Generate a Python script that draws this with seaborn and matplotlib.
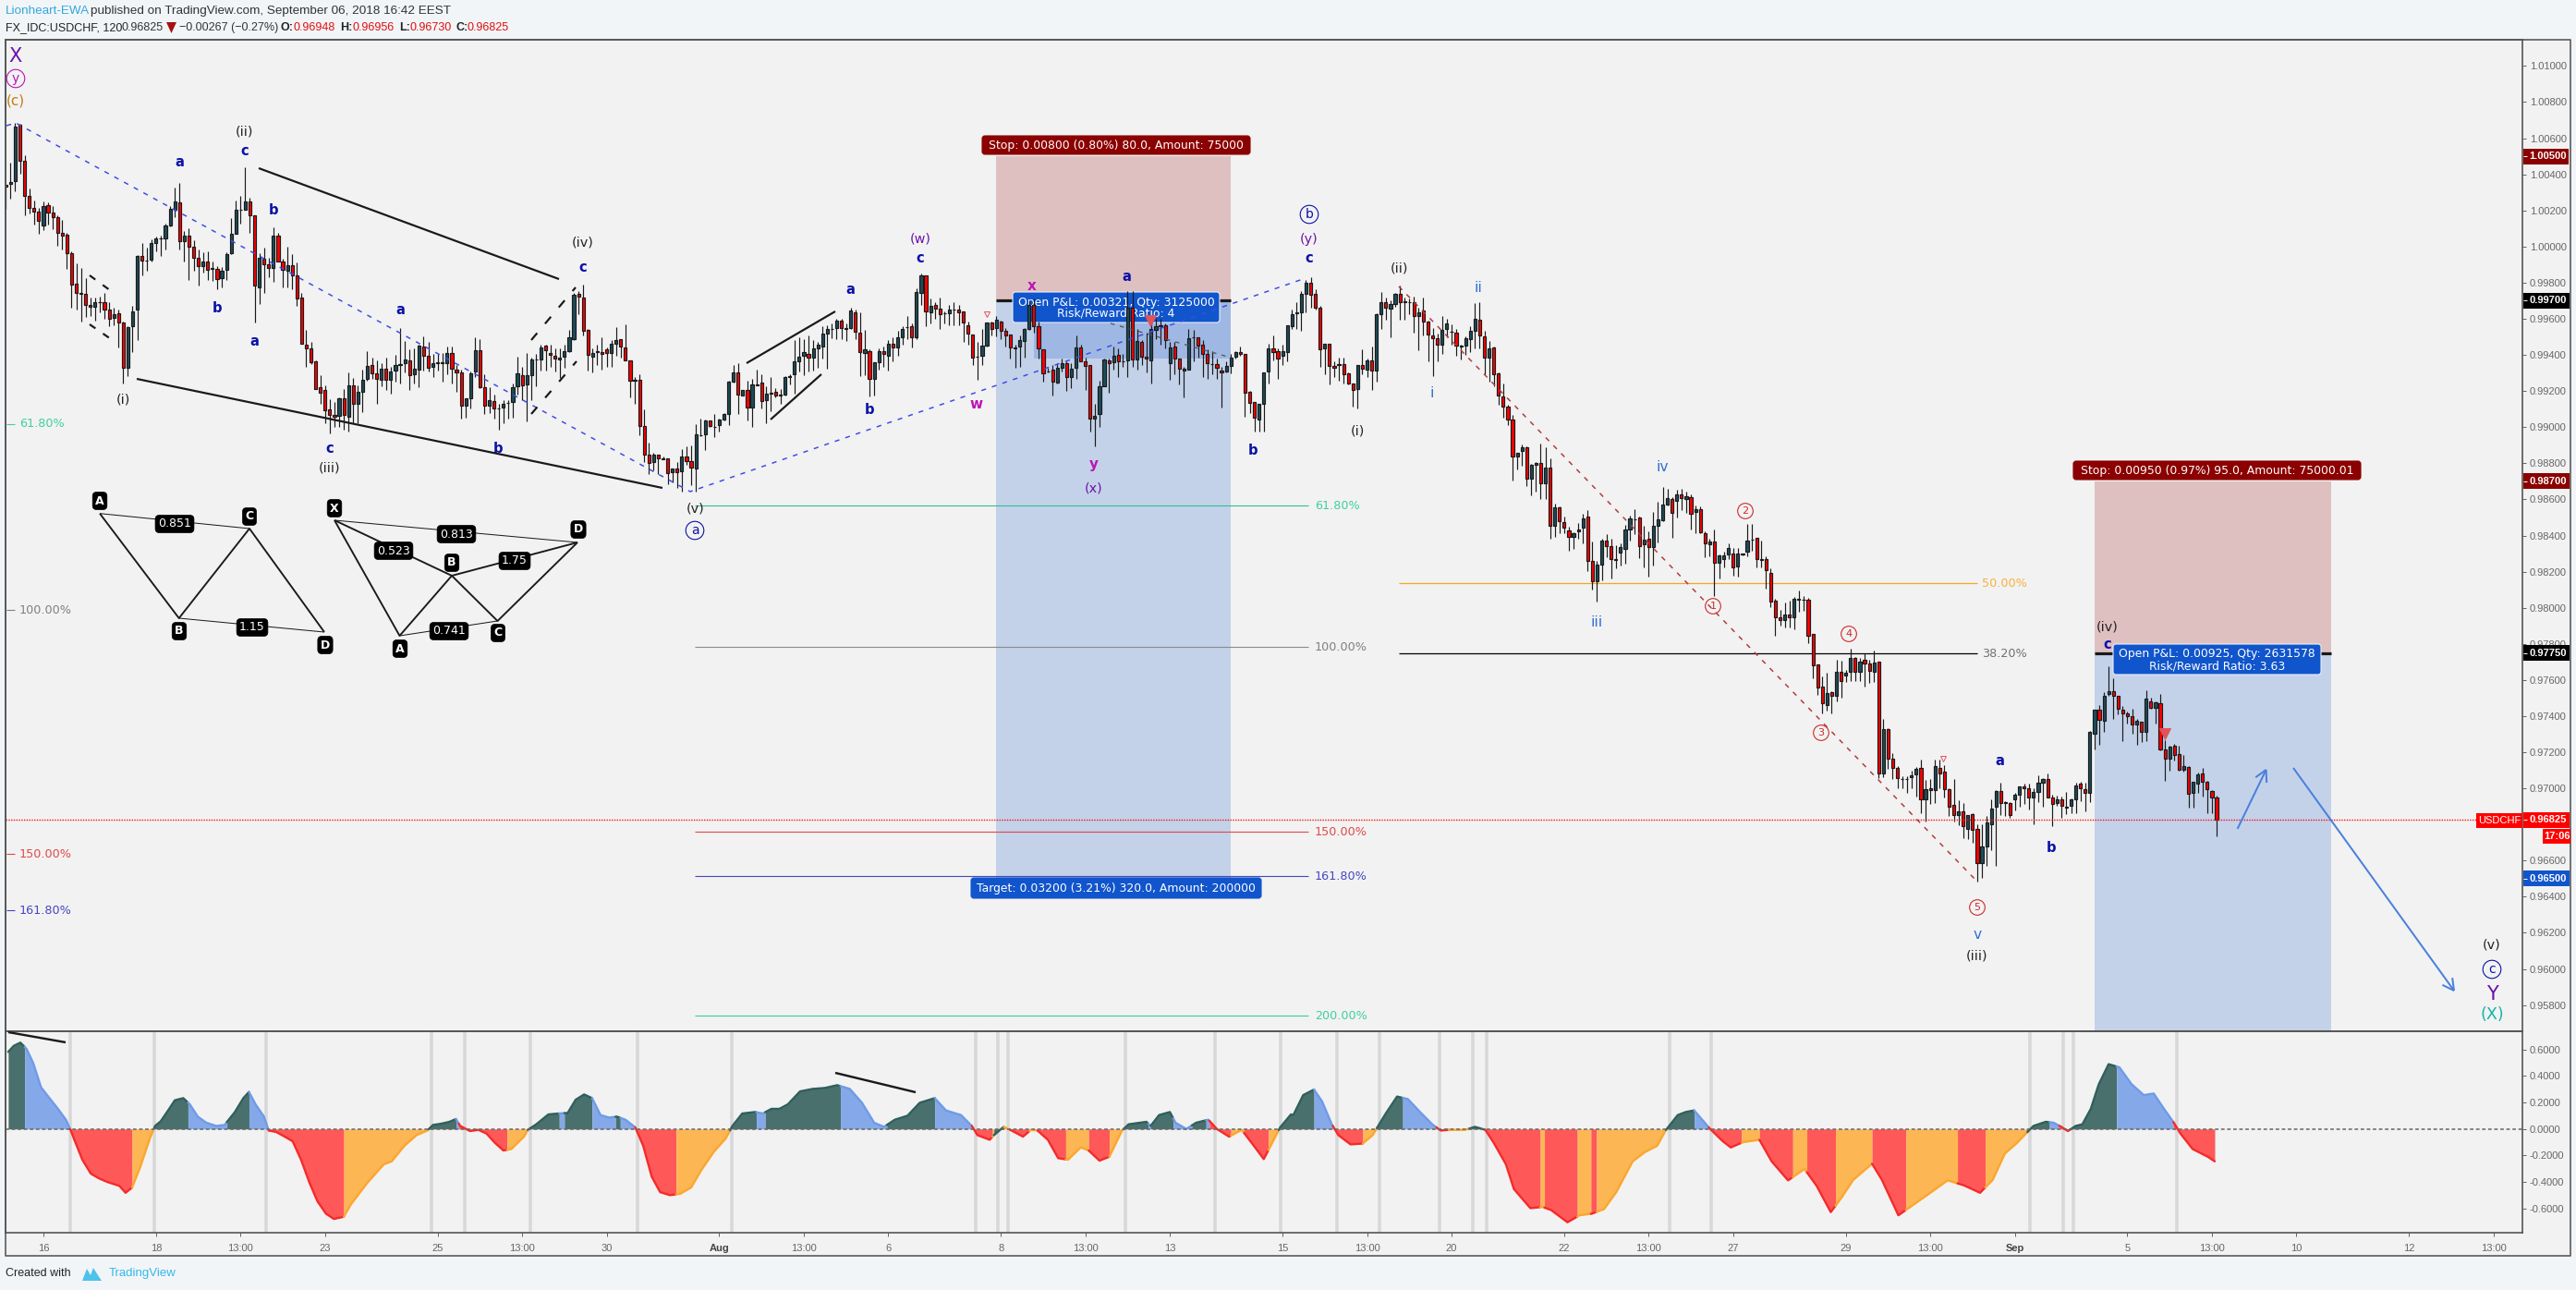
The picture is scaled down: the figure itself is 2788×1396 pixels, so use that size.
import numpy as np
import pandas as pd
import seaborn as sns
import matplotlib
matplotlib.use("Agg")
import matplotlib.pyplot as plt
from matplotlib.lines import Line2D
from matplotlib.patches import Rectangle, FancyBboxPatch, Polygon
from matplotlib.transforms import Affine2D

W, H = 2788, 1396
# ---------------- price data, in 1e-5 units ----------------
opens = [
100340,100345,100362,100673,100473,100282,100212,100192,100115,100227,
100186,100161,100074,100064,99961,99792,99741,99736,99675,99665,
99690,99690,99651,99603,99629,99577,99330,99557,99649,99946,
99924,99925,100021,100043,100047,100115,100203,100243,100028,100062,
100000,99939,99890,99919,99879,99878,99823,99869,99961,100069,
100202,100202,100251,100171,99775,99934,99900,99879,100059,99919,
99864,99895,99838,99719,99455,99438,99366,99219,99204,99096,
99069,99062,99158,99056,99230,99127,99194,99265,99342,99296,
99260,99322,99260,99311,99344,99352,99368,99291,99316,99444,
99393,99335,99356,99354,99352,99412,99317,99301,
99118,99162,99307,99425,99220,99118,99143,99104,99107,99135,
99141,99225,99286,99235,99286,99375,99373,99450,99409,99394,
99373,99389,99419,99486,99737,99716,99537,99389,99418,99414,
99430,99409,99460,99486,99440,99368,99261,99261,99005,98846,
98805,98846,98826,98826,98749,98770,98754,98836,98810,98770,
98954,98959,99036,99003,99010,99041,99071,99250,99302,99174,
99204,99107,99233,99245,99148,99187,99194,99177,99179,99280,
99291,99363,99394,99404,99384,99435,99445,99517,99542,99547,
99588,99549,99547,99634,99522,99409,99419,99266,99358,99419,
99394,99460,99440,99496,99552,99558,99498,
99742,99839,99634,99675,99655,99629,99629,99650,99650,99640,
99563,99512,99391,99394,99450,99578,99547,99583,99532,99512,
99440,99445,99476,99542,99675,99558,99430,99310,99317,99246,
99327,99353,99276,99327,99440,99363,99343,99046,99072,99225,
99368,99358,99399,99367,99368,99660,99374,99471,99389,99368,
99537,99563,99563,99353,99445,99379,99312,99317,99496,99496,
99455,99404,99350,99348,99312,99307,99338,99389,99414,99404,
99194,99138,99041,99128,99307,99435,99420,99394,99414,99558,
99633,99634,99737,99798,99737,99660,99435,99460,99338,99348,
99348,99297,99240,99210,99343,99317,
99368,99311,99623,99690,99654,99680,99736,99698,99693,99690,
99613,99644,99582,99506,99490,99455,99542,99530,99521,99449,
99449,99485,99531,99593,99501,99383,99439,99296,99168,99112,
99040,98835,98866,98887,98713,98789,98800,98687,98774,98452,
98554,98472,98426,98390,98421,98441,98503,98257,98148,98237,
98370,98339,98262,98303,98324,98431,98491,98498,98349,98380,
98334,98452,98482,98569,98600,98590,98626,98600,98610,98528,
98544,98411,98349,98365,98247,98272,98293,98298,98231,98298,
98308,98375,98385,98262,98272,98191,
98038,97947,97932,97960,97947,98047,98042,
98042,97853,97684,97565,97459,97531,97510,97643,97623,97643,
97720,97643,97710,97689,97643,97700,97085,97326,97162,97111,
97051,97051,97060,97075,97111,96937,96999,96988,97111,97091,
96993,96906,96850,96871,96778,96855,96773,96584,96676,96799,
96896,96983,96922,96917,96937,96963,97009,96999,96952,96978,
97029,97050,96952,96917,96937,96896,96901,96937,97024,96993,
96973,97300,97433,97372,97520,97536,97510,97433,97413,97398,
97352,97367,97311,97480,97444,97469,97218,97162,97234,97188,
97101,97116,96973,97024,97080,97034,96983,96947,
]
closes = [
100330,100355,100662,100473,100279,100212,100192,100140,100225,100186,
100161,100074,100059,99961,99787,99741,99738,99675,99665,99690,
99693,99649,99598,99625,99577,99327,99552,99642,99949,99920,
99920,100018,100043,100047,100115,100207,100248,100028,100062,99999,
99936,99890,99919,99869,99876,99818,99867,99956,100069,100205,
100205,100251,100171,99782,99936,99903,99879,100059,99917,99869,
99895,99838,99710,99460,99434,99357,99209,99189,99091,99066,
99060,99158,99066,99230,99127,99194,99260,99337,99296,99267,
99322,99260,99306,99342,99347,99373,99286,99322,99450,99393,
99330,99352,99359,99357,99412,99322,99301,99117,
99162,99297,99425,99220,99118,99148,99104,99102,99131,99136,
99220,99297,99233,99286,99373,99377,99440,99425,99399,99378,
99384,99419,99496,99732,99721,99532,99399,99409,99419,99404,
99409,99460,99481,99445,99368,99256,99259,99005,98846,98800,
98846,98826,98824,98746,98770,98749,98836,98810,98775,98959,
98955,99036,99005,99002,99041,99071,99250,99302,99179,99204,
99107,99235,99235,99143,99184,99189,99174,99179,99276,99281,
99363,99389,99414,99384,99435,99455,99517,99542,99544,99588,
99547,99542,99645,99527,99414,99430,99266,99358,99419,99404,
99460,99440,99496,99542,99554,99496,99747,
99839,99640,99670,99655,99624,99631,99650,99652,99634,99578,
99517,99384,99389,99450,99578,99542,99594,99532,99507,99440,
99438,99481,99542,99675,99558,99435,99297,99309,99251,99327,
99353,99276,99322,99440,99363,99338,99046,99061,99225,99374,
99353,99394,99363,99365,99660,99374,99476,99389,99379,99542,
99558,99561,99481,99440,99379,99322,99322,99491,99495,99450,
99404,99353,99348,99327,99302,99338,99384,99414,99404,99189,
99133,99051,99128,99302,99435,99414,99379,99420,99563,99624,
99634,99737,99798,99732,99660,99430,99460,99338,99327,99346,
99292,99240,99205,99343,99322,99368,
99311,99623,99690,99659,99680,99736,99690,99693,99692,99613,
99634,99582,99511,99490,99455,99536,99572,99528,99449,99448,
99490,99531,99598,99506,99383,99434,99291,99173,99112,99040,
98835,98856,98887,98713,98789,98800,98687,98774,98452,98554,
98477,98441,98390,98411,98431,98493,98257,98148,98237,98370,
98339,98267,98272,98334,98431,98493,98489,98339,98375,98334,
98452,98487,98569,98605,98523,98626,98605,98615,98518,98544,
98416,98354,98365,98247,98288,98288,98329,98226,98298,98296,
98370,98378,98267,98272,98206,98033,
97947,97932,97960,97947,98048,98046,98044,
97843,97679,97556,97469,97526,97510,97643,97592,97638,97720,
97643,97700,97689,97648,97694,97085,97326,97162,97111,97055,
97050,97050,97070,97106,96937,96993,96988,97121,97085,96993,
96896,96850,96871,96789,96850,96768,96584,96676,96809,96886,
96983,96917,96920,96850,96963,97009,96999,96952,96978,97029,
97050,96947,96912,96937,96901,96894,96937,97014,96999,96973,
97311,97433,97377,97510,97536,97510,97439,97413,97398,97352,
97372,97311,97495,97444,97474,97213,97162,97229,97183,97101,
97121,96968,97034,97075,97034,96993,96947,96825,
]
highs = [
100342,100464,100683,100680,100504,100321,100256,100212,100248,100244,
100222,100171,100145,100077,99975,99907,99881,99825,99719,99719,
99722,99741,99693,99660,99651,99583,99557,99673,99954,100018,
99992,100038,100057,100060,100128,100222,100325,100350,100086,100099,
100035,99983,99966,99975,99915,99890,99884,99966,100157,100253,
100279,100439,100268,100171,99963,99992,99936,100106,100076,99932,
100000,99958,99912,99745,99540,99472,99369,99287,99233,99153,
99139,99165,99212,99301,99270,99233,99318,99420,99386,99369,
99356,99386,99335,99398,99548,99475,99429,99438,99455,99502,
99472,99404,99404,99412,99446,99446,99344,99318,
99054,99310,99498,99486,99293,99222,99182,99131,99148,99148,
99242,99390,99336,99413,99387,99404,99455,99455,99455,99438,
99438,99455,99537,99745,99754,99788,99544,99438,99455,99498,
99442,99481,99554,99489,99570,99370,99276,99293,99097,98913,
98858,98850,98838,98827,98773,98807,98879,98892,98901,99015,
99049,99042,99037,99071,99049,99080,99259,99344,99353,99208,
99259,99268,99319,99293,99225,99276,99216,99213,99285,99293,
99481,99498,99489,99506,99481,99472,99561,99566,99575,99600,
99600,99575,99660,99651,99634,99540,99430,99361,99438,99447,
99481,99498,99532,99558,99617,99575,99771,
99848,99839,99711,99694,99720,99643,99677,99694,99677,99643,
99583,99515,99472,99544,99578,99583,99617,99592,99549,99515,
99455,99507,99549,99703,99711,99583,99430,99327,99345,99353,
99382,99362,99353,99510,99455,99387,99345,99131,99259,99379,
99379,99447,99438,99404,99754,99754,99541,99481,99524,99609,
99600,99600,99575,99472,99472,99379,99336,99541,99537,99498,
99481,99430,99421,99379,99336,99362,99404,99421,99447,99404,
99200,99140,99131,99302,99464,99510,99438,99455,99566,99652,
99694,99754,99814,99831,99762,99669,99464,99464,99362,99387,
99387,99302,99242,99345,99430,99379,
99446,99629,99748,99719,99702,99745,99782,99719,99710,99724,
99659,99716,99591,99548,99519,99613,99600,99569,99543,99455,
99502,99557,99685,99692,99535,99475,99446,99301,99241,99122,
99066,98858,98904,98895,98798,98806,98907,98887,98827,98576,
98559,98503,98448,98418,98469,98520,98539,98366,98261,98380,
98406,98383,98346,98354,98457,98508,98545,98503,98452,98423,
98528,98585,98667,98658,98610,98653,98656,98644,98627,98568,
98559,98423,98380,98431,98295,98312,98358,98332,98332,98301,
98462,98465,98388,98371,98286,98218,
98050,97986,98030,98040,98060,98094,98065,
98053,97856,97684,97621,97638,97536,97710,97706,97655,97771,
97729,97723,97746,97710,97763,97701,97382,97331,97195,97121,
97067,97067,97096,97118,97157,97046,97050,97157,97157,97126,
96999,97050,96934,96917,96853,96865,96802,96802,96845,96939,
96990,97033,96930,96922,96973,97012,97024,97024,96999,97070,
97058,97080,96964,96961,96956,96981,96942,97033,97036,97033,
97316,97433,97459,97531,97676,97607,97514,97456,97425,97442,
97382,97370,97541,97502,97480,97520,97268,97237,97246,97234,
97183,97121,97039,97087,97113,97041,96990,96959,
]
lows = [
100209,100265,100308,100401,100175,100183,100123,100069,100089,100120,
100094,100004,99983,99878,99663,99651,99586,99612,99617,99591,
99634,99600,99557,99566,99443,99243,99284,99417,99484,99838,
99867,99915,99975,99946,99983,100111,100163,99983,99915,99816,
99864,99784,99855,99813,99809,99765,99774,99816,99958,100069,
100128,100202,100077,99581,99681,99745,99830,99804,99915,99775,
99775,99765,99673,99460,99335,99347,99296,99127,99023,98967,
99003,99003,98986,98977,99020,99020,99084,99258,99267,99130,
99224,99204,99187,99250,99241,99301,99206,99241,99219,99315,
99308,99279,99315,99253,99293,99241,99195,99045,
99054,99106,99276,99216,99075,99080,99046,98986,99020,99046,
99054,99182,99148,99034,99148,99225,99315,99312,99336,99307,
99271,99327,99416,99484,99626,99506,99315,99305,99344,99319,
99336,99336,99395,99384,99370,99165,99131,98957,98807,98739,
98759,98742,98821,98684,98696,98662,98645,98790,98679,98642,
98952,98875,99003,98943,98978,99037,99012,99247,99075,99174,
99037,99003,99233,99106,99024,99088,99165,99131,99174,99239,
99186,99310,99288,99310,99315,99327,99378,99326,99493,99489,
99489,99476,99544,99489,99285,99288,99169,99174,99319,99336,
99315,99367,99395,99455,99489,99442,99489,
99677,99558,99575,99600,99541,99575,99566,99566,99566,99472,
99455,99345,99264,99345,99447,99507,99501,99486,99447,99379,
99327,99336,99384,99537,99524,99379,99254,99302,99174,99242,
99310,99200,99217,99268,99362,99208,98978,98896,99003,99225,
99189,99319,99276,99336,99276,99336,99319,99345,99305,99242,
99486,99455,99438,99264,99293,99234,99165,99316,99362,99387,
99276,99268,99293,99268,99111,99302,99298,99379,99396,99055,
99080,98978,98978,98978,99242,99370,99268,99345,99362,99541,
99544,99532,99634,99660,99651,99336,99293,99234,99276,99259,
99242,99234,99114,99106,99293,99276,
99207,99253,99543,99596,99499,99668,99596,99596,99625,99523,
99426,99506,99364,99284,99364,99403,99497,99455,99395,99374,
99398,99417,99434,99434,99291,99253,99224,99122,99050,99011,
98704,98764,98784,98675,98622,98641,98602,98602,98383,98394,
98414,98414,98317,98325,98380,98354,98201,98099,98035,98153,
98278,98163,98218,98235,98244,98371,98406,98274,98226,98172,
98235,98363,98479,98568,98388,98499,98542,98525,98435,98414,
98411,98278,98286,98064,98163,98226,98269,98175,98172,98291,
98286,98317,98226,98223,98107,98005,
97846,97900,97890,97890,97880,97979,97984,
97804,97607,97515,97416,97428,97416,97481,97502,97587,97592,
97592,97592,97565,97582,97587,97055,97062,97109,97053,96999,
96999,96976,96999,96956,96862,96814,96913,96917,96999,96947,
96845,96814,96797,96726,96717,96697,96483,96504,96572,96657,
96569,96853,96845,96836,96879,96896,96913,96883,96802,96922,
96896,96947,96789,96905,96836,96859,96862,96865,96927,96874,
96925,97217,97241,97312,97510,97386,97408,97263,97357,97300,
97242,97254,97263,97442,97357,97212,97041,97096,97152,97097,
97092,96893,96893,96973,96956,96862,96862,96734,
]
# ---------------- oscillator, bars and values ----------------
osc_bars = [
0.5,1.7,3.1,4.4,5.8,7.5,9.3,11.1,12.8,13.7,14.6,16.3,18.1,19.8,21.6,24.2,25.5,26.9,28.6,30.7,
31.8,33.0,34.8,36.0,37.8,39.2,40.9,42.7,44.8,46.6,48.8,50.6,51.8,53.2,55.0,56.0,57.6,59.4,61.1,62.9,
64.7,66.4,68.2,69.9,72.0,73.5,77.0,80.5,82.2,84.9,87.5,89.8,91.0,92.8,94.5,95.9,96.8,98.9,100.7,102.4,
104.2,106.0,107.7,110.4,111.2,113.0,115.6,117.9,119.7,121.4,123.2,124.9,126.7,128.5,130.2,132.0,134.1,135.8,137.6,139.4,
141.5,143.7,146.0,148.1,150.8,153.4,154.8,156.9,159.6,161.3,163.1,164.8,166.6,169.2,171.9,174.5,177.1,179.8,182.4,185.0,
187.1,189.4,192.1,194.7,197.9,200.3,203.5,205.8,207.0,209.6,210.5,212.6,214.0,216.7,218.4,219.8,222.0,224.2,226.3,229.0,
230.7,233.0,235.1,237.8,239.2,243.0,243.9,245.7,248.0,249.2,251.5,253.6,256.2,258.0,260.6,263.3,265.9,268.0,270.3,271.5,273.8,
274.3,276.4,278.7,280.4,282.5,283.9,286.5,289.1,291.2,292.2,294.0,296.4,298.7,301.3,303.9,305.7,307.4,310.9,313.0,315.2,
317.0,319.6,321.3,324.8,327.4,329.2,332.7,335.3,337.9,340.5,343.1,346.6,349.2,351.8,353.6,356.2,357.9,359.7,361.4,363.1,
365.8,367.5,370.1,373.6,376.2,379.7,383.2,385.8,388.8,391.0,393.6,397.6,399.7,403.2,404.6,409.3,413.7,417.2,420.6,423.3,
425.9,428.5,430.7,432.0,434.6,436.3,438.1,439.3,441.0,442.4,444.2,445.9,448.0,450.3,452.9,455.5,457.6,459.8,461.9,463.3,
465.9,469.1,470.6,
]
osc_vals = [
.583,.629,.653,.606,.501,.315,.233,.152,.070,0,-.082,-.233,-.338,-.373,-.401,-.431,-.483,-.443,-.291,-.070,
.023,.058,.152,.217,.233,.186,.093,.047,.023,.030,.128,.233,.280,.186,.093,-.012,-.023,-.058,-.093,-.233,
-.408,-.548,-.641,-.681,-.664,-.571,-.408,-.268,-.245,-.128,-.047,-.012,.030,.040,.054,.075,.023,-.016,-.007,-.035,
-.105,-.163,-.152,-.058,-.007,.035,.110,.117,.121,.221,.261,.233,.105,.086,.093,.070,.012,-.128,-.361,-.478,
-.501,-.490,-.443,-.315,-.175,-.070,.023,.117,.128,.117,.152,.152,.186,.284,.303,.310,.331,.303,.198,.047,
.016,.070,.100,.198,.233,.140,.105,.023,-.047,-.082,-.047,.016,-.007,-.058,-.007,-.012,-.082,-.221,-.233,-.140,
-.163,-.240,-.210,-.012,.035,.054,.023,.105,.128,.047,0,.047,.070,0,-.058,-.007,-.128,-.228,-.070,.012,.110,
.105,.256,.298,.210,.035,-.047,-.117,-.110,-.047,.012,.117,.245,.226,.128,.035,-.012,-.007,-.007,.016,-.007,
-.105,-.268,-.455,-.599,-.590,-.613,-.706,-.653,-.641,-.606,-.478,-.245,-.175,-.128,-.012,.105,.128,.140,.070,0,
-.093,-.140,-.100,-.082,-.245,-.389,-.303,-.431,-.629,-.524,-.385,-.263,-.385,-.653,-.618,-.501,-.389,-.427,-.483,-.385,
-.186,-.105,-.023,.023,.054,.047,.012,-.016,.023,.035,.152,.338,.490,.466,.338,.256,.268,.152,.047,-.035,
-.152,-.210,-.245,
]
seg_ends = [
4.0,13.7,26.9,31.6,38.8,47.1,51.8,56.0,72.0,90.1,95.9,96.5,106.8,111.2,117.9,119.0,124.9,129.9,130.9,134.1,
142.8,154.3,159.9,161.8,177.8,187.7,197.9,205.8,210.2,210.5,212.6,213.9,218.1,219.8,225.8,230.7,235.1,238.1,243.4,243.9,
248.7,252.7,255.7,256.4,261.0,263.8,269.0,271.2,278.7,282.7,289.1,292.1,297.6,304.8,307.4,311.8,315.2,326.9,327.8,334.8,
337.7,338.9,353.7,359.7,362.8,369.8,373.6,380.7,383.7,389.8,397.6,404.8,415.8,421.7,430.7,435.4,437.5,439.8,449.7,461.8,470.6,
]
seg_kinds = list("TBROTBTBROTBROTBTBTB" "ROTBTBTBROTOROROROTB" "TBTBROROTBROTBROTROR" "OROTBROROROROROTBRTBR")
gray_bands = [13.7,31.6,55.5,90.7,97.7,111.8,134.6,154.6,206.7,211.4,213.5,238.6,257.6,271.5,
              283.5,292.6,305.5,312.6,315.4,354.4,363.3,431.3,438.4,440.5,462.5]

price_ticks = [0.958 + 0.002 * k for k in range(27)]
osc_ticks = [0.6, 0.4, 0.2, 0.0, -0.2, -0.4, -0.6]
time_bars = [8,32,50,68,92,110,128,152,170,188,212,230,248,272,290,308,332,350,368,392,410,428,452,470,488,512,530]
time_labels = ["16","18","13:00","23","25","13:00","30","Aug","13:00","6","8","13:00","13","15","13:00","20","22",
               "13:00","27","29","13:00","Sep","5","13:00","10","12","13:00"]

fib_mid = [(0.98566,"61.80%","#2fbf92","#3fd09c"),(0.97783,"100.00%","#8a8a8a","#808080"),
           (0.96759,"150.00%","#e04848","#e04848"),(0.96514,"161.80%","#4646c0","#4646c0"),
           (0.95741,"200.00%","#2fd09c","#3fd09c")]
fib_left = [(0.99017,"61.80%","#3fd09c"),(0.97988,"100.00%","#808080"),
            (0.96637,"150.00%","#e04848"),(0.96325,"161.80%","#4646c0")]
fib_right = [(0.98136,"50.00%","#f5a623","#f8b040"),(0.97747,"38.20%","#000000","#707070")]

# ---------------- theme ----------------
sns.set_theme(style="white", rc={"figure.facecolor": "#f2f5f8", "axes.facecolor": "#f2f2f2"})
plt.rcParams["font.family"] = ["DejaVu Sans"]
UI = "Liberation Sans"
fig = plt.figure(figsize=(W / 100, H / 100), dpi=100)
PX = Affine2D().scale(1, -1).translate(0, H)

L, R, T, M, B1, B2, OUT = 6, 2730, 43, 1116, 1334, 1359, 2782
def axes_px(l, r, t, b):
    return fig.add_axes([l / W, 1 - b / H, (r - l) / W, (b - t) / H])
ax = axes_px(L, R, T, M)
sub = axes_px(L, R, M, B1)
bar_px = lambda p: (p - 6.33) / 5.08
xlim = (bar_px(L), bar_px(R))
ylim = (0.95655, 1.01145)
GRID = "#555555"

def fline(xs, ys, c="k", lw=1.0, ls="-", z=6, **k):
    fig.add_artist(Line2D(xs, ys, transform=PX, color=c, lw=lw * 0.72, ls=ls, zorder=z, solid_capstyle="butt", **k))
def ftext(x, y, s, c="k", size=9.5, ha="center", va="center", weight="normal", fam=None, z=8, **k):
    fig.text(x, y, s, transform=PX, color=c, fontsize=size, ha=ha, va=va, weight=weight, zorder=z,
             family=fam if fam else "DejaVu Sans", **k)
def box(x0, x1, y0, y1, fc, z=7, ec="none"):
    fig.add_artist(Rectangle((x0, y0), x1 - x0, y1 - y0, transform=PX, fc=fc, ec=ec, lw=0, zorder=z))

# ---------------- main pane ----------------
ax.set_xlim(*xlim); ax.set_ylim(*ylim)
ax.set_xticks([])
ax.yaxis.tick_right()
ax.set_yticks(price_ticks)
ax.set_yticklabels([f"{t:.5f}" for t in price_ticks], fontsize=8, color="#666666", family=UI)
ax.tick_params(axis="y", length=3, width=0.72, color="#666666", pad=2.5, right=True)

# position tools
RED_BOX, BLUE_BOX, BLUE_OPEN = "#dfc0c1", "#c3d2e9", "#9fb7e3"
ax.add_patch(Rectangle((211, 0.997), 50, 0.008, fc=RED_BOX, ec="none", zorder=1))
ax.add_patch(Rectangle((211, 0.965), 50, 0.032, fc=BLUE_BOX, ec="none", zorder=1))
ax.add_patch(Rectangle((219, 0.99379), 42, 0.00321, fc=BLUE_OPEN, ec="none", zorder=1.1))
ax.hlines(0.997, 211, 261, color="k", lw=2.3, zorder=1.2)
ax.add_patch(Rectangle((445, 0.9775), 50.5, 0.0095, fc=RED_BOX, ec="none", zorder=1))
ax.add_patch(Rectangle((445, ylim[0]), 50.5, 0.9775 - ylim[0], fc=BLUE_BOX, ec="none", zorder=1))
ax.hlines(0.9775, 445, 495.5, color="k", lw=2.3, zorder=1.2)

# fibonacci levels
FIB = 9.2
for p, lab, lc, tc in fib_mid:
    ax.hlines(p, bar_px(752), bar_px(1416), color=lc, lw=0.8, zorder=1.5)
    ftext(1423, 1396 - ax.transData.transform((0, p))[1], lab, tc, size=FIB, ha="left", z=5)
for p, lab, tc in fib_left:
    ax.hlines(p, bar_px(7), bar_px(16), color=tc, lw=0.8, zorder=1.5)
    ftext(21, 1396 - ax.transData.transform((0, p))[1], lab, tc, size=FIB, ha="left", z=5)
for p, lab, lc, tc in fib_right:
    ax.hlines(p, bar_px(1514), bar_px(2140), color=lc, lw=0.9, zorder=1.5)
    ftext(2145, 1396 - ax.transData.transform((0, p))[1], lab, tc, size=FIB, ha="left", z=5)

# labels that sit underneath the candles
TOOL = 8.9
def tool_box(x0, x1, y0, y1, fc, lines, ys, axes_level=False, border=False):
    a = dict(transform=PX, clip_on=False)
    patch = FancyBboxPatch((x0 + 2, y0 + 2), x1 - x0 - 4, y1 - y0 - 4, boxstyle="round,pad=2,rounding_size=3",
                           fc=fc, ec="#e8eef8" if border else fc, lw=0.8, **a)
    if axes_level:
        patch.set_zorder(2); ax.add_patch(patch)
        patch.set_transform(PX)
        for s, y in zip(lines, ys):
            ax.text((x0 + x1) / 2, y, s, transform=PX, color="white", fontsize=TOOL, ha="center", va="center",
                    zorder=2.1, clip_on=False)
    else:
        patch.set_zorder(7); fig.add_artist(patch)
        for s, y in zip(lines, ys):
            ftext((x0 + x1) / 2, y, s, "white", size=TOOL, z=8)
tool_box(1096, 1320, 316, 349, "#1155cc", ["Open P&L: 0.00321, Qty: 3125000", "Risk/Reward Ratio: 4"], [327, 339.5], True, True)
tool_box(1063, 1353, 147, 167, "#8b0000", ["Stop: 0.00800 (0.80%) 80.0, Amount: 75000"], [157])
tool_box(1051, 1365, 950, 972, "#1155cc", ["Target: 0.03200 (3.21%) 320.0, Amount: 200000"], [961])
tool_box(2244, 2555, 499, 519, "#8b0000", ["Stop: 0.00950 (0.97%) 95.0, Amount: 75000.01"], [509])
tool_box(2287, 2512, 697, 730, "#1155cc", ["Open P&L: 0.00925, Qty: 2631578", "Risk/Reward Ratio: 3.63"], [708, 720.5], False, True)

# candles
o, h, l, c = [np.array(a, dtype=float) / 1e5 for a in (opens, highs, lows, closes)]
assert len(o) == len(c) == len(h) == len(l), (len(o), len(c), len(h), len(l))
idx = np.arange(len(o))
ax.vlines(idx, np.minimum(l, np.minimum(o, c)), np.maximum(h, np.maximum(o, c)), color="k", lw=0.85, zorder=3)
ax.bar(idx, np.abs(c - o), bottom=np.minimum(o, c), width=0.62,
       color=np.where(c >= o, "#1c4c5a", "#ff0000").tolist(), edgecolor="k", lw=0.85, zorder=3.1)
ax.axhline(c[-1], color="#f01515", lw=1.0, ls=(0, (1, 1)), zorder=3.5)

for s in ax.spines.values():
    s.set_color(GRID); s.set_linewidth(1.2)

# ---------------- oscillator pane ----------------
sub.set_xlim(*xlim); sub.set_ylim(-0.785, 0.739)
FILL = {"T": "#49706c", "B": "#85a9e8", "R": "#ff5858", "O": "#fdb654"}
LINE = {"T": "#2f5f5b", "B": "#6e9be8", "R": "#f52a2a", "O": "#fba72e"}
bars = np.array(osc_bars); vals = np.array(osc_vals)
assert len(bars) == len(vals), (len(bars), len(vals))
assert len(seg_ends) == len(seg_kinds), (len(seg_ends), len(seg_kinds))
for b in gray_bands:
    sub.axvline(b, ymin=0.005, ymax=1, color="#d8d8d8", lw=2.6, zorder=1)
start = bars[0]
for e, k in zip(seg_ends, seg_kinds):
    inner = bars[(bars > start) & (bars < e)]
    xs = np.r_[start, inner, e]
    ys = np.interp(xs, bars, vals)
    sub.fill_between(xs, 0, ys, color=FILL[k], lw=0, zorder=2)
    sns.lineplot(x=xs, y=ys, ax=sub, color=LINE[k], lw=1.7, estimator=None, sort=False, legend=False, zorder=3)
    start = e
sub.axhline(0, color="#666666", lw=1.1, ls=(0, (2.5, 1.8)), zorder=4)
sub.yaxis.tick_right()
sub.set_yticks(osc_ticks)
sub.set_yticklabels([f"{t:.4f}" for t in osc_ticks], fontsize=8, color="#666666", family=UI)
sub.set_xticks(time_bars)
sub.set_xticklabels(time_labels, fontsize=8, color="#666666", family=UI)
for t, s in zip(sub.get_xticklabels(), time_labels):
    if s in ("Aug", "Sep"):
        t.set_fontweight("bold"); t.set_color("#444444")
sub.tick_params(axis="x", length=3, width=0.72, color="#666666", pad=6, bottom=True)
sub.tick_params(axis="y", length=3, width=0.72, color="#666666", pad=2.5, right=True)
sub.set_xlabel(""); sub.set_ylabel("")
for s in sub.spines.values():
    s.set_color(GRID); s.set_linewidth(1.2)
sub.spines["top"].set_linewidth(1.4)

# outer frame
fline([L, OUT, OUT, L, L], [T, T, B2, B2, T], GRID, 1.6, z=1)
box(R, OUT, T, B2, "#f2f2f2", z=-1)
box(L, R, B1, B2, "#f2f2f2", z=-1)

# ---------------- drawing tools (image positions) ----------------
BL = "#3d4ce6"
fline([7, 17, 747, 1413], [136, 133, 532, 301], BL, 1.5, (0, (3.5, 4.5)))
fline([1514, 2139], [310, 953], "#b23b3b", 1.5, (0, (3.5, 4.5)))
fline([1202, 1332], [350, 387], "#555555", 1.3, (0, (3.5, 4.5)))
for seg in [((280, 605), (182, 302)), ((148, 717), (410, 528)), ((808, 904), (393, 337)), ((834, 889), (454, 405))]:
    fline(seg[0], seg[1], "k", 2.2)
for seg in [((97, 123), (298, 317)), ((97, 123), (351, 369))]:
    fline(seg[0], seg[1], "k", 2.2, (0, (3.5, 4.5)))
for seg in [((575, 623), (368, 311)), ((575, 624), (448, 391))]:
    fline(seg[0], seg[1], "k", 2.2, (0, (4.5, 6)))
for seg in [((9, 71), (1117, 1128)), ((904, 991), (1161, 1182))]:
    fline(seg[0], seg[1], "k", 2.4)

# arrows
for (x0, y0, x1, y1) in [(2421.6, 897, 2452.6, 833), (2482, 831, 2656, 1072)]:
    fline([x0, x1], [y0, y1], "#4a80dc", 2.0)
    ang = np.arctan2(y1 - y0, x1 - x0)
    for d in (2.65, -2.65):
        fline([x1, x1 + 14 * np.cos(ang + d)], [y1, y1 + 14 * np.sin(ang + d)], "#4a80dc", 2.0)

# harmonic patterns
fline([108, 193.7, 270, 351], [555.7, 669, 572, 684], "k", 1.9)
fline([108, 270], [555.7, 572], "k", 1.0)
fline([193.7, 351], [669, 684], "k", 1.0)
fline([362, 432.5, 489, 538.5, 625], [563, 688, 623, 672, 587], "k", 1.9)
fline([362, 489], [563, 623], "k", 1.9)
fline([489, 625], [623, 587], "k", 1.9)
fline([362, 625], [563, 587], "k", 1.0)
fline([432.5, 538.5], [688, 672], "k", 1.0)
for x, y, s in [(108, 542, "A"), (270, 559, "C"), (194, 683, "B"), (352, 698, "D"), (189, 567, "0.851"),
                (273, 679, "1.15"), (362, 550, "X"), (433, 702, "A"), (489, 609, "B"), (539, 685, "C"),
                (626, 573, "D"), (426, 596, "0.523"), (494, 578, "0.813"), (557, 607, "1.75"), (486, 683, "0.741")]:
    ftext(x, y, s, "white", size=9, weight="bold" if len(s) == 1 else "normal",
          bbox=dict(boxstyle="round,pad=0.24,rounding_size=0.35", fc="black", ec="black", lw=0.5))

# wave labels
NAVY, GREY, BLUE, MAG, PUR, CRED = "#0b12a8", "#222222", "#2f6fd0", "#bb14b4", "#6c12a8", "#cc2a2a"
LET, PAR, ROM = 10.6, 10.4, 11.2
waves = [
 (17,61,"X",PUR,15,"normal"),(17,109,"(c)","#c47a12",10.9,"normal"),
 (265,142,"(ii)",GREY,PAR,"normal"),(265,164,"c",NAVY,LET,"bold"),(194,176,"a",NAVY,LET,"bold"),(296,227,"b",NAVY,LET,"bold"),
 (235,333,"b",NAVY,LET,"bold"),(275,370,"a",NAVY,LET,"bold"),(133,433,"(i)",GREY,PAR,"normal"),(433,335,"a",NAVY,LET,"bold"),
 (357,486,"c",NAVY,LET,"bold"),(357,507,"(iii)",GREY,PAR,"normal"),(631,263,"(iv)",GREY,PAR,"normal"),(631,290,"c",NAVY,LET,"bold"),
 (539,485,"b",NAVY,LET,"bold"),(753,550,"(v)",GREY,PAR,"normal"),(920,314,"a",NAVY,LET,"bold"),(941,444,"b",NAVY,LET,"bold"),
 (996,259,"(w)",PUR,PAR,"normal"),(996,280,"c",NAVY,LET,"bold"),(1117,310,"x",MAG,11,"bold"),(1057,437,"w",MAG,11,"bold"),
 (1184,502,"y",MAG,11,"bold"),(1184,528,"(x)",PUR,PAR,"normal"),(1219,299,"a",NAVY,LET,"bold"),(1356,487,"b",NAVY,LET,"bold"),
 (1417,259,"(y)",PUR,PAR,"normal"),(1417,280,"c",NAVY,LET,"bold"),(1514,290,"(ii)",GREY,PAR,"normal"),(1469,466,"(i)",GREY,PAR,"normal"),
 (1600,312,"ii",BLUE,ROM,"normal"),(1550,425,"i",BLUE,ROM,"normal"),(1728,673,"iii",BLUE,ROM,"normal"),(1799,506,"iv",BLUE,ROM,"normal"),
 (2140,1012,"v",BLUE,ROM,"normal"),(2140,1034,"(iii)",GREY,PAR,"normal"),(2164,824,"a",NAVY,LET,"bold"),(2220,917,"b",NAVY,LET,"bold"),
 (2281,678,"(iv)",GREY,PAR,"normal"),(2281,697,"c",NAVY,LET,"bold"),(2697,1022,"(v)",GREY,PAR,"normal"),(2697,1076,"Y",PUR,15,"normal"),
 (2697,1098,"(X)","#14b4a8",12.6,"normal"),
]
for x, y, s, col, sz, wt in waves:
    ftext(x, y, s, col, size=sz, z=5, weight=wt)
for x, y, s, col, sz, pad in [(17,85,"y",MAG,10,.2),(752,574,"a",NAVY,10,.2),(1417,232,"b",NAVY,10,.2),(2697,1049,"c",NAVY,10,.2),
                              (1889,553,"2",CRED,8,.3),(1854,656,"1",CRED,8,.3),(1971,793,"3",CRED,8,.3),
                              (2001,686,"4",CRED,8,.3),(2140,982,"5",CRED,8,.3)]:
    ftext(x, y, s, col, size=sz, z=5, bbox=dict(boxstyle=f"circle,pad={pad}", fc="none", ec=col, lw=0.8))
# small triangle marks
for x, y, ms, fc in [(1068, 340, 4, "none"), (1245, 347, 8, "#e0555a"), (2103, 821, 4, "none"), (2343, 794, 8, "#e0555a")]:
    fig.add_artist(Line2D([x], [y], transform=PX, marker="v", ms=ms, mfc=fc, mec="#e0555a", mew=0.7, ls="none", zorder=6))

# ---------------- right scale badges ----------------
def badge(y, s, fc, x0=2731, x1=2781, h=17):
    box(x0, x1, y - h / 2, y + h / 2, fc)
    fline([2731, 2735], [y, y], "white", 1, z=7.5)
    ftext(2737.5, y, s, "white", size=8, ha="left", weight="bold", fam=UI)
badge(169, "1.00500", "#8b0000", x1=2780)
badge(325.4, "0.99700", "#000000")
badge(520.9, "0.98700", "#8b0000")
badge(706.5, "0.97750", "#000000")
badge(950.8, "0.96500", "#1155cc")
badge(887.3, "0.96825", "#ff0000")
box(2680, 2730, 879.5, 895.5, "#ff0000")
ftext(2705, 887.7, "USDCHF", "white", size=8, fam=UI)
box(2752, 2782, 897, 913, "#ff0000")
ftext(2767, 905, "17:06", "white", size=8, weight="bold", fam=UI)

# ---------------- header and footer ----------------
def run(y, parts, size=9):
    for p in parts:
        x, s, col, w = p[:4]
        ftext(x, y, s, col, size=p[4] if len(p) > 4 else size, ha="left", weight=w, fam=UI)
run(12, [(6, "Lionheart-EWA", "#35a8dc", "normal", 9.7),
         (98.5, "published on TradingView.com, September 06, 2018 16:42 EEST", "#333333", "normal", 9.7)])
run(30, [(6, "FX_IDC:USDCHF, 120", "#222222", "normal"), (131, "0.96825", "#333333", "normal"),
         (194, "\u22120.00267 (\u22120.27%)", "#333333", "normal"),
         (304, "O:", "#222222", "bold"), (318, "0.96948", "#e01010", "normal"),
         (368, "H:", "#222222", "bold"), (382, "0.96956", "#e01010", "normal"),
         (432, "L:", "#222222", "bold"), (443, "0.96730", "#e01010", "normal"),
         (494, "C:", "#222222", "bold"), (505, "0.96825", "#e01010", "normal")])
fig.add_artist(Polygon([(180, 24), (191, 24), (185.5, 36)], closed=True, transform=PX, fc="#a81010", ec="none", zorder=8))
ftext(6, 1378, "Created with", "#222222", size=9, ha="left", fam=UI)
ftext(118, 1378, "TradingView", "#35b8e8", size=9.5, ha="left", fam=UI)
fig.add_artist(Polygon([(89, 1386), (94, 1373), (98, 1380), (101, 1372), (106, 1380), (110, 1386)], closed=True,
                       transform=PX, fc="#4cc2ec", ec="none", zorder=8))

fig.savefig("out.png", dpi=100, facecolor=fig.get_facecolor())
